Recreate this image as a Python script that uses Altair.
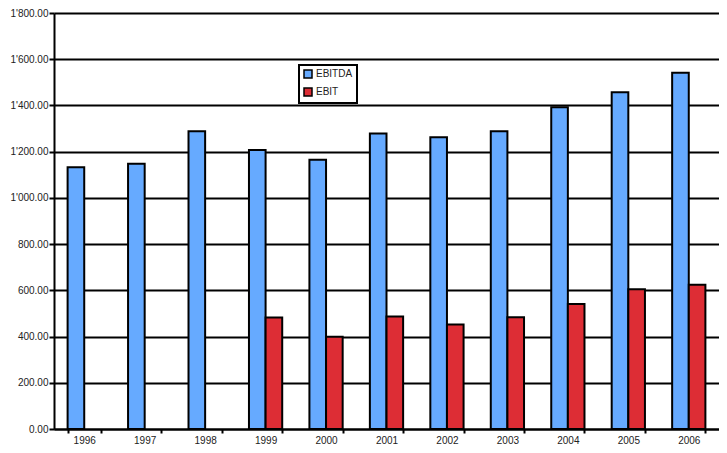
import altair as alt
import pandas as pd

years = ["1996", "1997", "1998", "1999", "2000", "2001", "2002", "2003", "2004", "2005", "2006"]
ebitda = [1133, 1148, 1288, 1207, 1165, 1279, 1262, 1288, 1392, 1457, 1541]
ebit = [None, None, None, 482, 399, 487, 452, 484, 541, 605, 624]
series = ["EBITDA", "EBIT"]
colors = ["#66AAFF", "#DD2D35"]
y_ticks = [0, 200, 400, 600, 800, 1000, 1200, 1400, 1600, 1800]

rows = []
for i, yr in enumerate(years):
    rows.append({"year": yr, "series": "EBITDA", "value": ebitda[i]})
    if ebit[i] is not None:
        rows.append({"year": yr, "series": "EBIT", "value": ebit[i]})
df = pd.DataFrame(rows)

FONT = "Liberation Sans"

chart = alt.Chart(df).mark_bar(stroke="black", strokeWidth=2).encode(
    x=alt.X("year:N", sort=years,
            scale=alt.Scale(paddingInner=0.45, paddingOuter=0.225),
            axis=alt.Axis(title=None, labelAngle=0, tickBand="extent", grid=False,
                          labelPadding=2, tickSize=4)),
    xOffset=alt.XOffset("series:N", sort=series,
                        scale=alt.Scale(domain=series, paddingInner=0, paddingOuter=0)),
    y=alt.Y("value:Q",
            scale=alt.Scale(domain=[0, 1800], nice=False),
            axis=alt.Axis(title=None, values=y_ticks, grid=True, gridColor="black",
                          gridWidth=2, gridOpacity=1, labelPadding=1, tickSize=5,
                          labelExpr="replace(format(datum.value, ',.2f'), ',', \"'\")")),
    color=alt.Color("series:N", sort=series,
                    scale=alt.Scale(domain=series, range=colors),
                    legend=alt.Legend(title=None, orient="none", legendX=245, legendY=52,
                                      symbolType="square", symbolSize=64,
                                      symbolStrokeColor="black", symbolStrokeWidth=1.5,
                                      labelFontSize=10, labelFont=FONT, labelColor="#222",
                                      labelOffset=3, rowPadding=4, padding=4,
                                      strokeColor="black", fillColor="white")),
).properties(
    width=665,
    height=416,
    autosize=alt.AutoSizeParams(type="none"),
    padding={"left": 46, "top": 5, "right": 0, "bottom": 16},
).configure_axis(
    domainColor="black", domainWidth=2, tickColor="black", tickWidth=2,
    labelFont=FONT, labelFontSize=10, labelColor="#222",
).configure_legend(
    strokeWidth=2,
).configure_view(
    strokeWidth=0,
)

chart.save("out.html", embed_options={"renderer": "svg", "actions": False})
